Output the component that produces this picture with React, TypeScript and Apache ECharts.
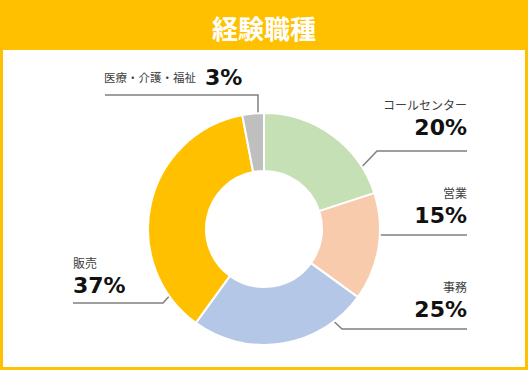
import React, { useEffect, useRef } from "react";
import * as echarts from "echarts";

const TITLE = "経験職種";
const categories = ["コールセンター", "営業", "事務", "販売", "医療・介護・福祉"];
const values = [20, 15, 25, 37, 3];
const colors = ["#C5E0B4", "#F8CBAD", "#B4C7E7", "#FFC000", "#BFBFBF"];

// label placement (layout only)
const labelPos = [
  { x: 467, y: 95, align: "right", va: "top", line: [[355, 174], [377, 151], [467, 151]] },
  { x: 467, y: 183, align: "right", va: "top", line: [[358, 235], [467, 235]] },
  { x: 467, y: 277, align: "right", va: "top", line: [[323, 311], [342, 329], [467, 329]] },
  { x: 73, y: 253, align: "left", va: "top", line: [[183, 281], [163, 303], [73, 303]] },
  { x: 104, y: 77, align: "left", va: "middle", line: [[258, 127], [258, 95], [105, 95]] },
];

const FONT = "'Noto Sans CJK JP', 'Noto Sans', sans-serif";

export default function App() {
  const ref = useRef<HTMLDivElement>(null);
  useEffect(() => {
    document.body.style.margin = "0";
    const chart = echarts.init(ref.current!, null, { renderer: "svg" });
    chart.setOption({
      animation: false,
      graphic: [
        {
          type: "rect",
          z: 0,
          shape: { x: 1.5, y: 1.5, width: 525, height: 367 },
          style: { fill: "#ffffff", stroke: "#FFC000", lineWidth: 3 },
        },
        {
          type: "rect",
          z: 0,
          shape: { x: 0, y: 0, width: 528, height: 50 },
          style: { fill: "#FFC000" },
        },
        {
          type: "text",
          z: 1,
          x: 264,
          y: 27,
          style: {
            text: TITLE,
            fill: "#ffffff",
            font: `bold 26px ${FONT}`,
            align: "center",
            verticalAlign: "middle",
          },
        },
      ],
      series: [
        {
          type: "pie",
          center: [264, 229],
          radius: [58, 116],
          startAngle: 90,
          clockwise: true,
          avoidLabelOverlap: false,
          itemStyle: { borderColor: "#ffffff", borderWidth: 2 },
          emphasis: { disabled: true },
          data: categories.map((c, i) => ({
            name: c,
            value: values[i],
            itemStyle: { color: colors[i] },
          })),
          label: {
            show: true,
            position: "outside",
            formatter: (p: any) =>
              p.dataIndex === 4
                ? `{m|${p.name}}{q|${p.value}%}`
                : `{n|${p.name}}\n{p|${p.value}%}`,
            rich: {
              n: { fontSize: 12, lineHeight: 18, color: "#404040", fontFamily: FONT },
              m: { fontSize: 11.5, lineHeight: 28, color: "#404040", fontFamily: FONT },
              p: {
                fontSize: 22,
                lineHeight: 28,
                fontWeight: "bold",
                color: "#111111",
                fontFamily: "'DejaVu Sans', sans-serif",
              },
              q: {
                fontSize: 22,
                lineHeight: 28,
                fontWeight: "bold",
                color: "#111111",
                fontFamily: "'DejaVu Sans', sans-serif",
                padding: [0, 0, 0, 9],
              },
            },
          },
          labelLine: {
            show: true,
            lineStyle: { color: "#7F7F7F", width: 1.5 },
          },
          labelLayout: (params: any) => {
            const lp = labelPos[params.dataIndex];
            return {
              x: lp.x,
              y: lp.y,
              align: lp.align,
              verticalAlign: lp.va,
              labelLinePoints: lp.line,
            };
          },
        },
      ],
    });
    return () => chart.dispose();
  }, []);
  return <div ref={ref} style={{ width: 528, height: 370 }} />;
}
